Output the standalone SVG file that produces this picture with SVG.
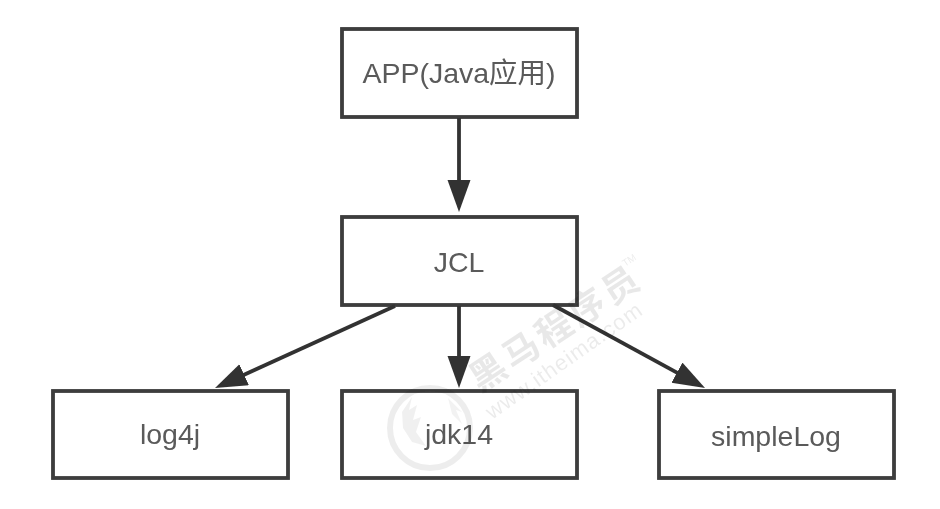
<svg xmlns="http://www.w3.org/2000/svg" width="940" height="509" viewBox="0 0 940 509">
<style>
.box{fill:#fff;stroke:#3c3c3c;stroke-width:3.8}
.lbl{font-family:"Liberation Sans","Noto Sans CJK SC",sans-serif;font-size:28.5px;fill:#5a5a5a;text-anchor:middle}
.edge{fill:none;stroke:#333;stroke-width:3.8}
.wm{font-family:"Noto Sans CJK SC","Liberation Sans",sans-serif;fill:#000;fill-opacity:.09}
.wl{font-family:"Liberation Sans",sans-serif;fill:#000;fill-opacity:.08}
</style>
<defs>
<marker id="arrow" markerUnits="userSpaceOnUse" markerWidth="34" markerHeight="24" refX="24" refY="11.5" orient="auto">
<path d="M0 0L32 11.5L0 23Z" fill="#333"/>
</marker>
<filter id="soft" x="-5%" y="-5%" width="110%" height="110%"><feGaussianBlur stdDeviation="0.6"/></filter>
</defs>
<rect width="940" height="509" fill="#fff"/>
<g filter="url(#soft)">
<g id="node-app"><rect class="box" x="342" y="29" width="235" height="88"/><text class="lbl" x="459" y="83">APP(Java应用)</text></g>
<g id="node-jcl"><rect class="box" x="342" y="217" width="235" height="88"/><text class="lbl" x="459" y="272">JCL</text></g>
<g id="node-log4j"><rect class="box" x="53" y="391" width="235" height="87"/><text class="lbl" x="170" y="444">log4j</text></g>
<g id="node-jdk14"><rect class="box" x="342" y="391" width="235" height="87"/><text class="lbl" x="459" y="444">jdk14</text></g>
<g id="node-simplelog"><rect class="box" x="659" y="391" width="235" height="87"/><text class="lbl" x="776" y="446">simpleLog</text></g>
<g id="connectors">
<path class="edge" d="M459 118L459 204" marker-end="url(#arrow)"/>
<path class="edge" d="M395 306L222.3 384.7" marker-end="url(#arrow)"/>
<path class="edge" d="M459 306L459 380" marker-end="url(#arrow)"/>
<path class="edge" d="M553 305L698 384.2" marker-end="url(#arrow)"/>
</g>
<g id="watermark">
<circle cx="430" cy="428" r="40" fill="none" stroke="#000" stroke-opacity=".07" stroke-width="6"/>
<path d="M412 397L409 410L417 405L413 420L421 417L416 432L426 446L412 442L403 428L402 412Z" fill="#000" fill-opacity=".06"/>
<path d="M448 398L462 412L456 410L462 424L452 414Z" fill="#000" fill-opacity=".05"/>
<text class="wm" transform="translate(480 393) rotate(-33.4)" font-size="36" font-weight="700" letter-spacing="3.5">黑马程序员</text>
<text class="wl" transform="translate(492 420) rotate(-35)" font-size="22" letter-spacing="1">www.itheima.com</text>
<text class="wl" transform="translate(625 267) rotate(-33)" font-size="10">TM</text>
</g>
</g>
</svg>
